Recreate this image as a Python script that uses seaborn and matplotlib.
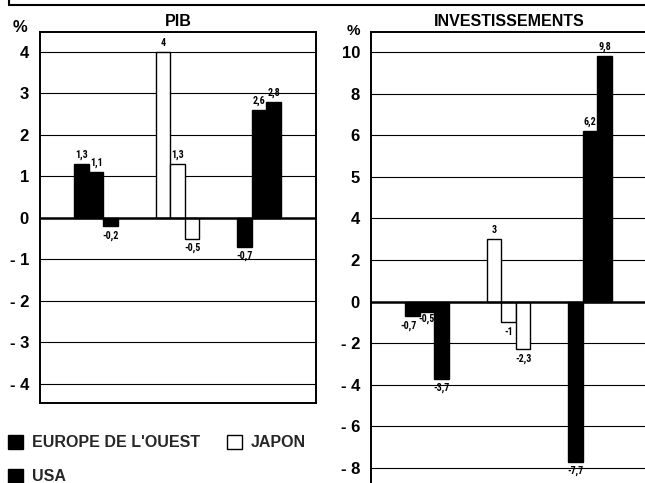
import numpy as np
import pandas as pd
import matplotlib
matplotlib.use("Agg")
import matplotlib.pyplot as plt
from matplotlib import font_manager
from matplotlib.patches import Patch
from matplotlib.lines import Line2D
import seaborn as sns

# ---------------- data ----------------
regions = ["EUROPE DE L'OUEST", "JAPON", "USA"]
periods = ["t1", "t2", "t3"]
region_colors = ["black", "white", "black"]

pib_europe = [1.3, 1.1, -0.2]
pib_japon = [4.0, 1.3, -0.5]
pib_usa = [-0.7, 2.6, 2.8]

inv_europe = [-0.7, -0.5, -3.7]
inv_japon = [3.0, -1.0, -2.3]
inv_usa = [-7.7, 6.2, 9.8]

pib_ticks = [4, 3, 2, 1, 0, -1, -2, -3, -4]
inv_ticks = [10, 8, 6, 5, 4, 2, 0, -2, -4, -6, -8]

titles = ["PIB", "INVESTISSEMENTS"]

# small label nudges (points) to avoid collisions: (chart, region idx, period idx)
label_nudge = {(1, 0, 0): (-3.0, 0.0), (1, 0, 1): (-0.3, 1.5)}


def long_df(series):
    rows = []
    for reg, vals in zip(regions, series):
        for per, v in zip(periods, vals):
            rows.append({"region": reg, "period": per, "value": v})
    return pd.DataFrame(rows)


pib_df = long_df([pib_europe, pib_japon, pib_usa])
inv_df = long_df([inv_europe, inv_japon, inv_usa])


# piecewise scale of the original investment chart (4..6 stretched)
def fwd(v):
    v = np.asarray(v, dtype=float)
    return np.where(v <= 4, v, np.where(v <= 6, 2 * v - 4, v + 2))


def inv(t):
    t = np.asarray(t, dtype=float)
    return np.where(t <= 4, t, np.where(t <= 8, (t + 4) / 2, t - 2))


# find a condensed face for the small value labels
def narrow_font():
    names = {f.name for f in font_manager.fontManager.ttflist}
    for cand in ["Liberation Sans Narrow", "Roboto Condensed", "Open Sans Condensed",
                 "DejaVu Sans Condensed", "Noto Sans Condensed"]:
        if cand in names:
            return {"family": [cand, "DejaVu Sans"]}
    for f in font_manager.fontManager.ttflist:
        if f.name in ("DejaVu Sans", "Noto Sans", "Open Sans", "Roboto") and \
                str(f.stretch) in ("condensed", "semi-condensed", "extra-condensed"):
            return {"family": [f.name, "DejaVu Sans"], "fontstretch": "condensed"}
    return {"family": ["Liberation Sans", "DejaVu Sans"]}


NARROW = narrow_font()

sns.set_theme(style="white")
plt.rcParams["font.family"] = ["Liberation Sans", "DejaVu Sans"]
plt.rcParams["font.weight"] = "bold"

W, H = 645, 483
fig = plt.figure(figsize=(W / 100, H / 100), dpi=100)

ax1 = fig.add_axes([40 / W, 1 - 403 / H, 276 / W, 371 / H])
ax2 = fig.add_axes([371 / W, 0.0, 276 / W, 1 - 32 / H])

GROUP_W = 0.535
palette = {p: "black" for p in periods}


def fmt(v):
    if float(v).is_integer():
        return str(int(v))
    return f"{v:.1f}".replace(".", ",")


def tick_label(t):
    return f"- {abs(t)}" if t < 0 else str(t)


def draw(ci, ax, df, ticks, ylim, title, scaled=False):
    sns.barplot(data=df, x="region", y="value", hue="period", order=regions,
                hue_order=periods, palette=palette, width=GROUP_W, gap=0,
                errorbar=None, edgecolor="black", linewidth=1.0,
                legend=False, ax=ax, zorder=3)
    for p in ax.patches:
        cx = p.get_x() + p.get_width() / 2
        idx = int(round(cx))
        p.set_facecolor(region_colors[idx])
        p.set_edgecolor("black")
    if scaled:
        ax.set_yscale("function", functions=(fwd, inv))
    ax.set_xlim(-0.69, 2.70)
    ax.set_ylim(*ylim)
    ax.set_yticks(ticks)
    ax.set_yticklabels([tick_label(t) for t in ticks], fontsize=12,
                       fontweight="bold", color="black")
    ax.tick_params(axis="y", length=0, pad=8)
    ax.set_xticks([])
    ax.set_xlabel("")
    ax.set_ylabel("")
    for t in ticks:
        if t != 0:
            ax.axhline(t, color="black", lw=0.8, zorder=1)
    ax.axhline(0, color="black", lw=1.8, zorder=4)
    ax.set_title(title, fontsize=11.5, fontweight="bold", pad=4, color="black")
    for s in ax.spines.values():
        s.set_color("black")
        s.set_linewidth(1.4)
    # value labels
    bw = GROUP_W / len(periods)
    for gi, reg in enumerate(regions):
        sub = df[df["region"] == reg]
        for k, v in enumerate(sub["value"]):
            x = gi + (k - 1) * bw
            dx, dy = label_nudge.get((ci, gi, k), (0.0, 0.0))
            off = 3 if v >= 0 else -3
            ax.annotate(fmt(v), (x, v), xytext=(dx, off + dy),
                        textcoords="offset points",
                        ha="center", va="bottom" if v >= 0 else "top",
                        fontsize=7.2, fontweight="bold", color="black", zorder=5,
                        **NARROW)


draw(0, ax1, pib_df, pib_ticks, (-4.46, 4.48), titles[0])
draw(1, ax2, inv_df, inv_ticks, (-8.72, 10.96), titles[1], scaled=True)
ax2.spines["bottom"].set_visible(False)
ax2.spines["right"].set_visible(False)

# percent signs
fig.text(13 / W, 1 - 27 / H, "%", fontsize=12, fontweight="bold", va="center",
         ha="left", color="black")
fig.text(347 / W, 1 - 31 / H, "%", fontsize=11, fontweight="bold", va="center",
         ha="left", color="black")

# frame fragment at the very top
fig.add_artist(Line2D([9 / W, 1.0], [1 - 5 / H, 1 - 5 / H], color="black", lw=1.5,
                      transform=fig.transFigure))
fig.add_artist(Line2D([9 / W, 9 / W], [1 - 5 / H, 1.0], color="black", lw=1.5,
                      transform=fig.transFigure))

# legend
handles = [Patch(facecolor=region_colors[0], edgecolor="black", label=regions[0]),
           Patch(facecolor=region_colors[2], edgecolor="black", label=regions[2]),
           Patch(facecolor=region_colors[1], edgecolor="black", label=regions[1])]
fig.legend(handles=handles, ncol=2, loc="upper left",
           bbox_to_anchor=(8 / W, 1 - 435 / H), frameon=False,
           prop={"weight": "bold", "size": 11.5}, handlelength=0.95,
           handleheight=0.95, handletextpad=0.55, columnspacing=1.7,
           labelspacing=1.15, borderpad=0, borderaxespad=0)

fig.savefig("out.png", dpi=100, facecolor="white")
